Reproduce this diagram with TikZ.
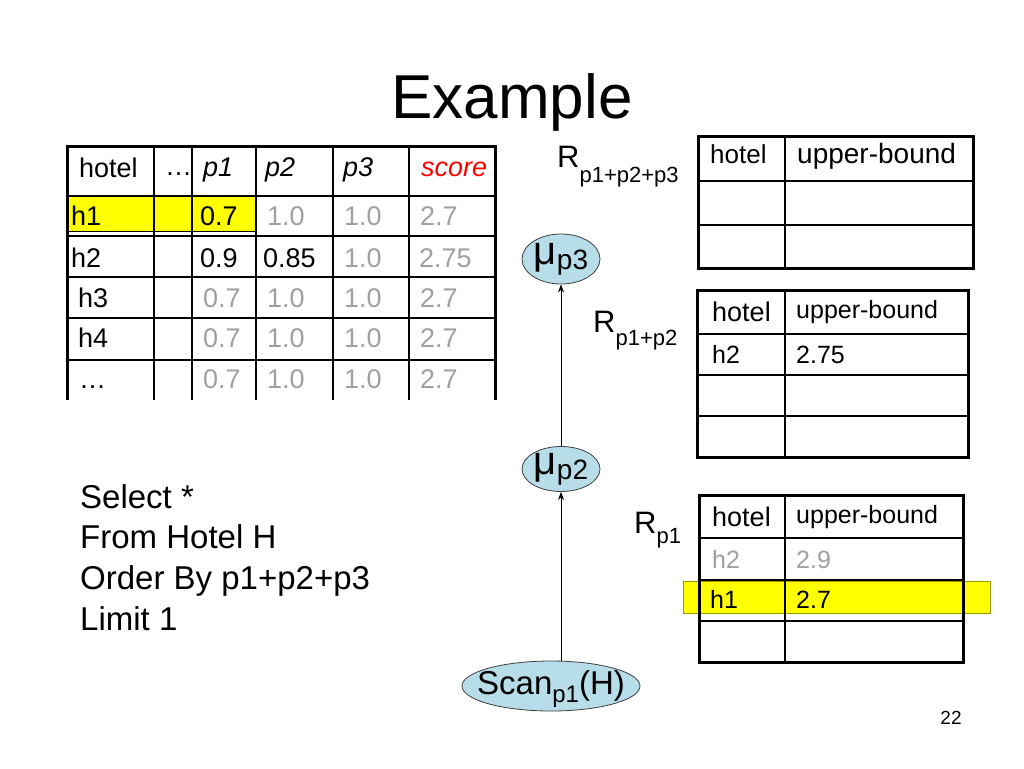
\documentclass[tikz,border=0pt]{standalone}
\usepackage{fontspec}
\setmainfont{Liberation Sans}
\usetikzlibrary{shapes.geometric,arrows.meta}
\definecolor{txtgray}{RGB}{160,160,160}
\definecolor{hiyellow}{RGB}{255,255,0}
\definecolor{ellfill}{RGB}{183,221,232}
\definecolor{scorered}{RGB}{255,0,0}
\newcommand\myfs[1]{\fontsize{#1}{#1}\selectfont}
\begin{document}
\begin{tikzpicture}[x=1pt,y=-1pt,
  thickln/.style={line width=3pt},
  thinln/.style={line width=1.3pt},
  hdr/.style={anchor=base west,inner sep=0pt,font=\myfs{27}},
  hdri/.style={anchor=base west,inner sep=0pt,font=\myfs{27}\itshape},
  cellb/.style={anchor=base west,inner sep=0pt,font=\myfs{27}},
  cellg/.style={anchor=base west,inner sep=0pt,font=\myfs{27},text=txtgray},
  rtxt/.style={anchor=base west,inner sep=0pt,font=\myfs{25}},
  rtxtg/.style={anchor=base west,inner sep=0pt,font=\myfs{25},text=txtgray},
  lbl/.style={anchor=base west,inner sep=0pt,font=\myfs{31}},
  sql/.style={anchor=base west,inner sep=0pt,font=\myfs{33}},
  ell/.style={ellipse,draw=black!75,line width=0.8pt,fill=ellfill,inner xsep=-12pt,inner ysep=-6pt},
  arr/.style={line width=0.8pt,-{Stealth[length=8pt,width=6pt]}}
]
\useasboundingbox[fill=white] (0,0) rectangle (1024,768);

% title
\node[anchor=base,inner sep=0pt,font=\myfs{62}] (title) at (512,118) {Example};

% ---------- left table ----------
\draw[fill=hiyellow,line width=0.8pt] (68,196) rectangle (255,231);
\draw[thickln] (65.5,146) -- (496.5,146);
\foreach \y in {196,236,277,318,360} \draw[thinln] (67,\y) -- (495,\y);
\draw[thickln] (67,146) -- (67,400);
\draw[thickln] (495,146) -- (495,400);
\foreach \x in {154,192,256,333,409} \draw[thinln] (\x,146) -- (\x,400);

\node[hdr] (th1) at (79,177) {hotel};
\node[hdr] (th2) at (165,175) {…};
\node[hdri] (th3) at (203,176) {p1};
\node[hdri] (th4) at (265,176) {p2};
\node[hdri] (th5) at (343,176) {p3};
\node[hdri,text=scorered] (th6) at (421,176) {score};

\node[cellb] (a1) at (71,225) {h1};
\node[cellb] (a3) at (200,225) {0.7};
\node[cellg] (a4) at (267,225) {1.0};
\node[cellg] (a5) at (344,225) {1.0};
\node[cellg] (a6) at (420,225) {2.7};

\node[cellb] (b1) at (71,267) {h2};
\node[cellb] (b3) at (200,267) {0.9};
\node[cellb] (b4) at (263,267) {0.85};
\node[cellg] (b5) at (344,267) {1.0};
\node[cellg] (b6) at (419,267) {2.75};

\node[cellb] (c1) at (78,307) {h3};
\node[cellg] (c3) at (203,307) {0.7};
\node[cellg] (c4) at (267,307) {1.0};
\node[cellg] (c5) at (344,307) {1.0};
\node[cellg] (c6) at (420,307) {2.7};

\node[cellb] (d1) at (78,347) {h4};
\node[cellg] (d3) at (203,347) {0.7};
\node[cellg] (d4) at (267,347) {1.0};
\node[cellg] (d5) at (344,347) {1.0};
\node[cellg] (d6) at (420,347) {2.7};

\node[cellb] (e1) at (79,388) {…};
\node[cellg] (e3) at (203,388) {0.7};
\node[cellg] (e4) at (267,388) {1.0};
\node[cellg] (e5) at (344,388) {1.0};
\node[cellg] (e6) at (420,388) {2.7};

% ---------- SQL ----------
\node[sql] (s1) at (80,508) {Select *};
\node[sql] (s2) at (80,548) {From Hotel H};
\node[sql] (s3) at (80,589) {Order By p1+p2+p3};
\node[sql] (s4) at (80,630) {Limit 1};

% ---------- right table 1 ----------
\foreach \y in {181,225} \draw[thinln] (698,\y) -- (973,\y);
\draw[thinln] (785,136) -- (785,268);
\draw[thickln] (698,136) rectangle (973,268);
\node[rtxt,font=\myfs{26}] (t1h) at (710,163) {hotel};
\node[rtxt,font=\myfs{28}] (t1u) at (797,163) {upper-bound};
\node[lbl] (r3) at (557,167) {R\raisebox{-15pt}{\myfs{22}p1+p2+p3}};

% ---------- right table 2 ----------
\foreach \y in {334,375,416} \draw[thinln] (697,\y) -- (968,\y);
\draw[thinln] (785,290) -- (785,457);
\draw[thickln] (697,290) rectangle (968,457);
\node[rtxt,font=\myfs{27}] (t2h) at (712,321) {hotel};
\node[rtxt] (t2u) at (796,318) {upper-bound};
\node[rtxt] (t2a) at (712,363) {h2};
\node[rtxt] (t2b) at (796,363) {2.75};
\node[lbl] (r2) at (593,332) {R\raisebox{-13pt}{\myfs{22}p1+p2}};

% ---------- right table 3 ----------
\draw[fill=hiyellow,draw=hiyellow!60!black,line width=0.6pt] (683,581) rectangle (990,613);
\foreach \y in {538,580,621} \draw[thinln] (699,\y) -- (963,\y);
\draw[thinln] (785,495) -- (785,662);
\draw[thickln] (699,495) rectangle (963,662);
\node[rtxt,font=\myfs{27}] (t3h) at (712,526) {hotel};
\node[rtxt] (t3u) at (796,523) {upper-bound};
\node[rtxtg] (t3a) at (712,568) {h2};
\node[rtxtg] (t3b) at (796,568) {2.9};
\node[rtxt] (t3c) at (710,608) {h1};
\node[rtxt] (t3d) at (796,608) {2.7};
\node[lbl] (r1) at (634,533) {R\raisebox{-10pt}{\myfs{22}p1}};

% ---------- plan ----------
\node[ell,minimum width=78pt,minimum height=50pt,font=\myfs{40}] (mu3) at (561,259) {μ\raisebox{-5pt}{\myfs{28}p3}};
\node[ell,minimum width=78pt,minimum height=45pt,font=\myfs{40}] (mu2) at (561,469) {μ\raisebox{-5pt}{\myfs{28}p2}};
\node[ell,minimum width=178pt,minimum height=50pt,font=\myfs{33},text height=24pt,text depth=8pt] (scan) at (551,686) {Scan\raisebox{-8pt}{\myfs{24}p1}(H)};
\draw[arr] (scan.north -| mu2.south) -- (mu2.south);
\draw[arr] (mu2.north) -- (mu3.south);

% page number
\node[inner sep=0pt,font=\myfs{19}] (pg) at (951,718) {22};
\end{tikzpicture}
\end{document}
